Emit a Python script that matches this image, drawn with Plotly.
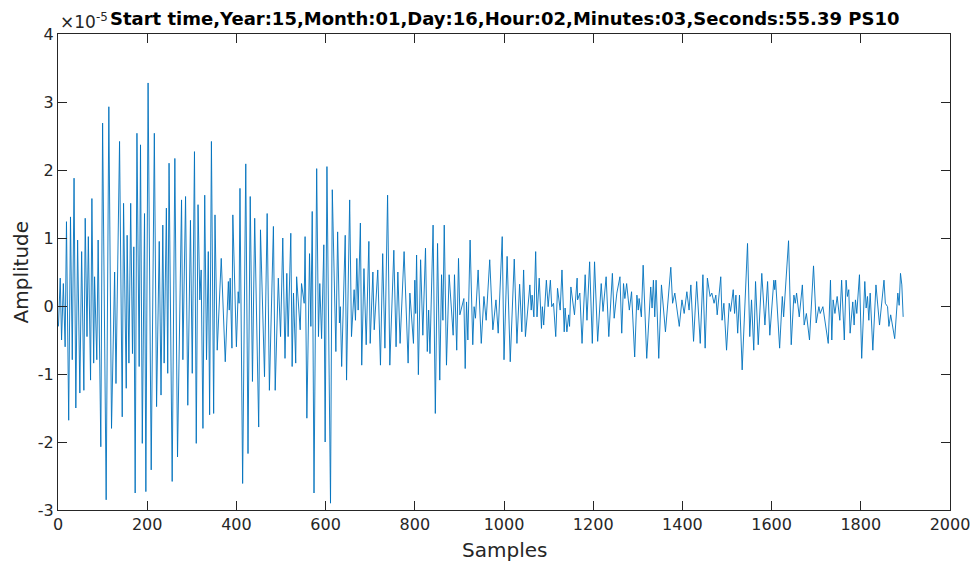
import plotly.graph_objects as go

# Turning points of the recorded trace: sample index and amplitude (units of 1e-5)
samples = [
    1, 5, 8, 12, 16, 19, 24, 28, 32, 36, 40, 44, 49, 53, 58, 61, 65, 68, 73, 76,
    80, 82, 87, 90, 96, 100, 108, 114, 120, 127, 130, 138, 144, 147, 153, 155, 159, 163, 167, 170,
    173, 177, 182, 185, 189, 194, 197, 202, 209, 216, 221, 227, 231, 235, 238, 243, 246,
    249, 256, 262, 268, 277, 280, 286, 291, 297, 301, 306, 310, 314, 318, 321, 325, 329, 333, 337,
    340, 344, 349, 352, 357, 366, 375, 382, 384, 386, 390, 392, 400, 404, 406, 408, 414, 421, 426,
    431, 436, 441, 450, 454, 463, 469, 474, 483, 487, 494, 499,
    504, 509, 513, 516, 522, 525, 528, 533, 535, 543, 546, 552, 554, 558, 564, 567, 570, 574, 580,
    584, 587, 591, 596, 599, 603, 611, 615, 623, 627, 631, 633, 636, 644, 647, 654, 658, 664, 667,
    670, 673, 678, 681, 686, 691, 697, 700, 706, 709, 717, 723, 728, 733, 739, 744,
    753, 758, 762, 767, 776, 785, 789, 797, 800, 802, 804, 808, 813, 818, 824, 828, 831, 834, 841,
    846, 851, 856, 860, 863, 866, 871, 877, 886, 889, 894, 898, 901, 910, 913, 916, 919, 924, 930,
    933, 936, 942, 949, 955, 960, 968, 975, 982, 987, 996, 1000,
    1007, 1014, 1023, 1029, 1035, 1040, 1044, 1048, 1058, 1061, 1063, 1067, 1071, 1074, 1079, 1084,
    1086, 1089, 1095, 1099, 1104, 1107, 1111, 1116, 1120, 1126, 1130, 1135, 1137, 1141, 1145, 1147,
    1150, 1158, 1164, 1165, 1170, 1175, 1182, 1186, 1192, 1198, 1203, 1210, 1218, 1222, 1229, 1235,
    1243, 1247, 1253,
    1260, 1264, 1268, 1271, 1275, 1281, 1286, 1293, 1298, 1301, 1303, 1308, 1312, 1320, 1329, 1332,
    1335, 1338, 1341, 1347, 1353, 1362, 1374, 1378, 1383, 1393, 1399, 1404, 1410, 1415, 1419, 1425,
    1432, 1440, 1446, 1451, 1456, 1462, 1466, 1471, 1475, 1478, 1486, 1489, 1493, 1499, 1505, 1508,
    1514, 1517, 1520, 1524, 1528, 1534, 1546, 1551, 1555, 1560, 1564, 1570, 1578, 1585, 1591, 1596,
    1605, 1607, 1609, 1618, 1624, 1627, 1638, 1644, 1650, 1653, 1656, 1662, 1669, 1673, 1678, 1685,
    1694, 1700, 1706, 1709, 1715, 1727, 1732, 1735, 1738, 1742, 1747, 1753, 1757, 1763,
    1767, 1770, 1773, 1776, 1782, 1785, 1788, 1791, 1797, 1802, 1809, 1812, 1815, 1818, 1821, 1827,
    1834, 1842, 1852, 1855, 1860, 1863, 1867, 1876, 1883, 1886, 1889, 1892, 1895,
]

amplitude = [
    -0.30, 0.41, -0.50, 0.33, -0.60, 1.24, -1.68, 1.31, -0.79, 1.88, -1.50, 0.97, -1.28, 0.80, -1.24, 1.29, -0.45, 1.02, -1.09, 1.58,
    -0.84, 0.43, -0.79, 0.97, -2.07, 2.69, -2.85, 2.93, -1.80, 0.50, -1.14, 2.42, -1.63, 1.51, -1.21, 1.04, -0.84, 1.51, -0.70, 0.87,
    -2.75, 2.54, -0.89, 2.37, -2.02, 1.36, -2.73, 3.28, -2.41, 2.54, -1.48, 0.95, -1.31, 1.19, -0.84, 1.44, -0.99,
    2.10, -2.58, 2.17, -2.22, 1.56, -0.79, 1.61, -1.46, 1.26, -0.99, 2.27, -2.02, 1.49, 0.09, 0.53, -1.80, 1.63, -0.79, 0.80,
    -1.60, 2.42, -1.58, 1.34, -0.65, 0.70, -0.82, 0.36, -0.06, 0.41, -0.62, 1.34, -0.60, 0.21, 0.04, 1.73, -2.61, 2.09, -2.17,
    1.61, -1.11, 1.29, -1.78, 1.12, -1.04, 1.36, -1.24, 1.17, -1.24, 0.41, -0.45,
    1.00, -0.77, 0.48, -0.45, 1.07, -0.89, 0.19, -0.84, 0.43, -0.35, 0.33, 0.04, 1.02, -1.65, 0.77, -0.30, 1.39, -2.75, 2.02,
    -0.45, 0.33, -0.48, 0.90, -2.00, 2.05, -2.90, 1.71, -0.67, 1.09, -0.25, -0.01, -0.89, 1.04, -1.09, 1.56, -0.45, 0.24, -0.21,
    0.70, -0.06, 1.22, -0.87, 0.55, -0.57, 0.95, -0.55, 0.50, -0.35, 0.53, -0.87, 0.77, -0.62, 1.63, -0.87,
    0.82, -0.60, 0.50, -0.55, 0.80, -0.84, 0.19, -0.55, 0.38, -0.11, 0.75, -1.01, 0.68, -0.43, 0.85, -0.67, -0.06, -0.70, 1.19,
    -1.58, 0.92, -1.09, 0.46, -0.21, 1.19, -0.87, 0.46, -0.43, 0.46, -0.65, 0.70, -0.13, 0.11, -0.92, 0.06, -0.50, 0.97, -0.57,
    -0.01, -0.18, 0.53, -0.55, 0.14, -0.21, 0.68, -0.35, 0.09, -0.40, 1.02, -0.79,
    0.73, -0.82, 0.69, -0.55, 0.32, -0.38, 0.53, -0.45, 0.31, -0.06, 0.16, -0.16, 0.80, -0.16, 0.41, -0.33,
    -0.01, -0.28, 0.38, -0.01, 0.38, -0.01, 0.04, -0.45, 0.26, -0.06, 0.53, -0.38, -0.03, -0.38, -0.13, -0.30,
    0.28, -0.13, 0.41, 0.09, 0.19, -0.55, 0.46, -0.21, 0.65, -0.55, 0.65, -0.52, 0.33, -0.08, 0.43, -0.45,
    0.48, -0.18, 0.19,
    0.43, -0.40, 0.33, 0.11, 0.33, -0.06, 0.21, -0.75, 0.16, -0.06, 0.11, -0.16, 0.60, -0.77, 0.28, -0.03,
    0.38, -0.16, 0.38, -0.77, 0.31, -0.38, 0.57, 0.04, 0.19, -0.30, 0.09, -0.11, 0.21, -0.06, 0.31, -0.52,
    0.36, -0.55, 0.46, -0.62, 0.41, 0.14, 0.19, 0.04, 0.16, -0.13, 0.43, -0.21, 0.04, -0.65, 0.04, -0.08,
    0.24, -0.11, 0.16, -0.40, 0.16, -0.94, 0.92, -0.45, 0.09, -0.65, 0.36, -0.57, 0.48, -0.28, 0.36, -0.43,
    0.38, 0.24, 0.38, -0.62, 0.14, -0.16, 0.96, -0.57, 0.16, 0.04, 0.19, -0.16, 0.31, -0.28, -0.11, -0.50,
    0.59, -0.25, -0.01, -0.11, -0.01, -0.55, 0.38, -0.50, 0.09, -0.11, 0.14, -0.21, 0.38, -0.50,
    0.38, 0.14, 0.24, -0.40, 0.06, -0.28, 0.09, -0.11, 0.46, -0.77, 0.36, -0.03, 0.14, -0.21, 0.19, -0.65,
    0.31, -0.28, 0.38, 0.04, -0.01, -0.30, -0.13, -0.48, 0.19, 0.01, 0.48, 0.31, -0.16,
]

x_ticks = [0, 200, 400, 600, 800, 1000, 1200, 1400, 1600, 1800, 2000]
x_tick_labels = ["0", "200", "400", "600", "800", "1000", "1200", "1400", "1600", "1800", "2000"]
y_ticks = [-3, -2, -1, 0, 1, 2, 3, 4]
y_tick_labels = ["-3", "-2", "-1", "0", "1", "2", "3", "4"]

title_text = "Start time,Year:15,Month:01,Day:16,Hour:02,Minutes:03,Seconds:55.39 PS10"
x_label = "Samples"
y_label = "Amplitude"

FONT = "DejaVu Sans"
INK = "#262626"

fig = go.Figure(
    go.Scatter(
        x=samples,
        y=amplitude,
        mode="lines",
        line=dict(color="#0072BD", width=0.9),
        hoverinfo="skip",
    )
)

axis_common = dict(
    showline=True,
    linecolor=INK,
    linewidth=1,
    mirror="ticks",
    ticks="inside",
    ticklen=9,
    tickwidth=1,
    tickcolor=INK,
    showgrid=False,
    zeroline=False,
    automargin=False,
    tickfont=dict(family=FONT, size=16, color=INK),
)

fig.update_layout(
    width=979,
    height=562,
    margin=dict(l=58, r=29, t=34, b=52),
    paper_bgcolor="white",
    plot_bgcolor="white",
    showlegend=False,
    xaxis=dict(
        range=[0, 2000],
        tickmode="array",
        tickvals=x_ticks,
        ticktext=x_tick_labels,
        **axis_common,
    ),
    yaxis=dict(
        range=[-3, 4],
        tickmode="array",
        tickvals=y_ticks,
        ticktext=y_tick_labels,
        **axis_common,
    ),
    annotations=[
        dict(
            text="<b>" + title_text + "</b>",
            xref="x domain", yref="y domain",
            x=0.5, y=1.032,
            xanchor="center", yanchor="middle",
            showarrow=False,
            font=dict(family=FONT, size=18, color="black"),
        ),
        dict(
            text="×10<sup>-5</sup>",
            xref="x domain", yref="y domain",
            x=0.0, y=1.0,
            xanchor="left", yanchor="bottom",
            showarrow=False,
            font=dict(family=FONT, size=17, color=INK),
        ),
        dict(
            text=x_label,
            xref="x domain", yref="y domain",
            x=0.5, y=-0.084,
            xanchor="center", yanchor="middle",
            showarrow=False,
            font=dict(family=FONT, size=20, color=INK),
        ),
        dict(
            text=y_label,
            xref="x domain", yref="y domain",
            x=-0.041, y=0.5,
            xanchor="center", yanchor="middle",
            textangle=-90,
            showarrow=False,
            font=dict(family=FONT, size=20, color=INK),
        ),
    ],
)

fig.write_html("out.html")
